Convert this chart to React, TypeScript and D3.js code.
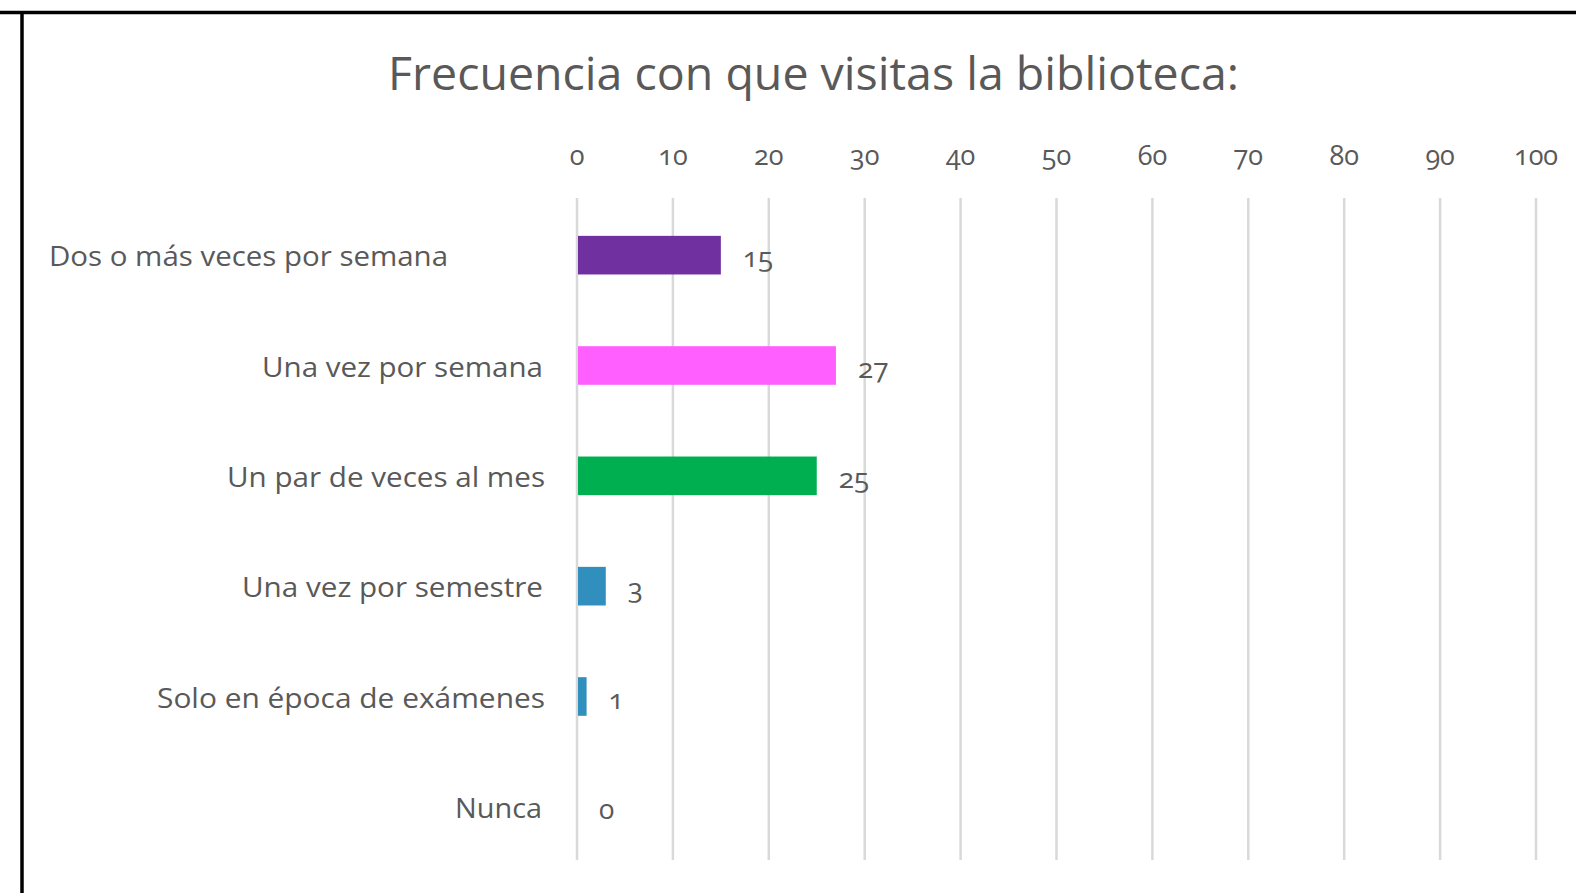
import React from "react";
import * as d3 from "d3";

const categories = [
  "Dos o más veces por semana",
  "Una vez por semana",
  "Un par de veces al mes",
  "Una vez por semestre",
  "Solo en época de exámenes",
  "Nunca",
];
const values = [15, 27, 25, 3, 1, 0];
const colors = ["#7030A0", "#FF5FFF", "#00B050", "#318FBD", "#318FBD", "#318FBD"];
const ticks = [0, 10, 20, 30, 40, 50, 60, 70, 80, 90, 100];
const title = "Frecuencia con que visitas la biblioteca:";

const labelLeft = [49, 262, 227, 242, 157, 455];
const labelRight = [448, 543, 545, 543, 545, 542];

const W = 1576;
const H = 893;
const FONT = "'Open Sans', 'DejaVu Sans', sans-serif";
const TEXT = "#595959";

export default function App() {
  const x = d3.scaleLinear().domain([0, 100]).range([577, 1536]);
  const y = d3
    .scaleBand<string>()
    .domain(categories)
    .range([200, 862])
    .paddingInner(0.65)
    .paddingOuter(0.325);

  return (
    <svg
      width={W}
      height={H}
      style={{ position: "absolute", left: 0, top: 0, background: "#fff" }}
      fontFamily={FONT}
    >
      <rect x={0} y={0} width={W} height={H} fill="#fff" />
      {/* frame lines */}
      <line x1={0} x2={W} y1={12.5} y2={12.5} stroke="#000" strokeWidth={3.5} />
      <line x1={22} x2={22} y1={12} y2={H} stroke="#000" strokeWidth={3.5} />

      {/* title */}
      <text
        x={388}
        y={90}
        fontSize={45}
        fill={TEXT}
        textLength={851}
        lengthAdjust="spacingAndGlyphs"
      >
        {title}
      </text>

      {/* gridlines */}
      {ticks.map((t) => (
        <line
          key={"g" + t}
          x1={x(t)}
          x2={x(t)}
          y1={198}
          y2={860}
          stroke="#D9D9D9"
          strokeWidth={2.5}
        />
      ))}

      {/* tick labels */}
      {ticks.map((t) => (
        <text
          key={"t" + t}
          x={x(t)}
          y={165}
          textAnchor="middle"
          fontSize={27}
          fill={TEXT}
          style={{ fontVariantNumeric: "oldstyle-nums" }}
        >
          {t}
        </text>
      ))}

      {/* bars */}
      {categories.map((c, i) => (
        <rect
          key={"b" + c}
          x={x(0) + 1}
          y={y(c)!}
          width={Math.max(0, x(values[i]) - x(0) - 1)}
          height={y.bandwidth()}
          fill={colors[i]}
        />
      ))}

      {/* value labels */}
      {categories.map((c, i) => (
        <text
          key={"v" + c}
          x={x(values[i]) + 22}
          y={y(c)! + y.bandwidth() / 2 + 12}
          fontSize={28}
          fill={TEXT}
          style={{ fontVariantNumeric: "oldstyle-nums" }}
        >
          {values[i]}
        </text>
      ))}

      {/* category labels */}
      {categories.map((c, i) => (
        <text
          key={"c" + c}
          x={labelLeft[i]}
          y={y(c)! + y.bandwidth() / 2 + 11}
          fontSize={27}
          fill={TEXT}
          textLength={labelRight[i] - labelLeft[i]}
          lengthAdjust="spacingAndGlyphs"
        >
          {c}
        </text>
      ))}
    </svg>
  );
}
